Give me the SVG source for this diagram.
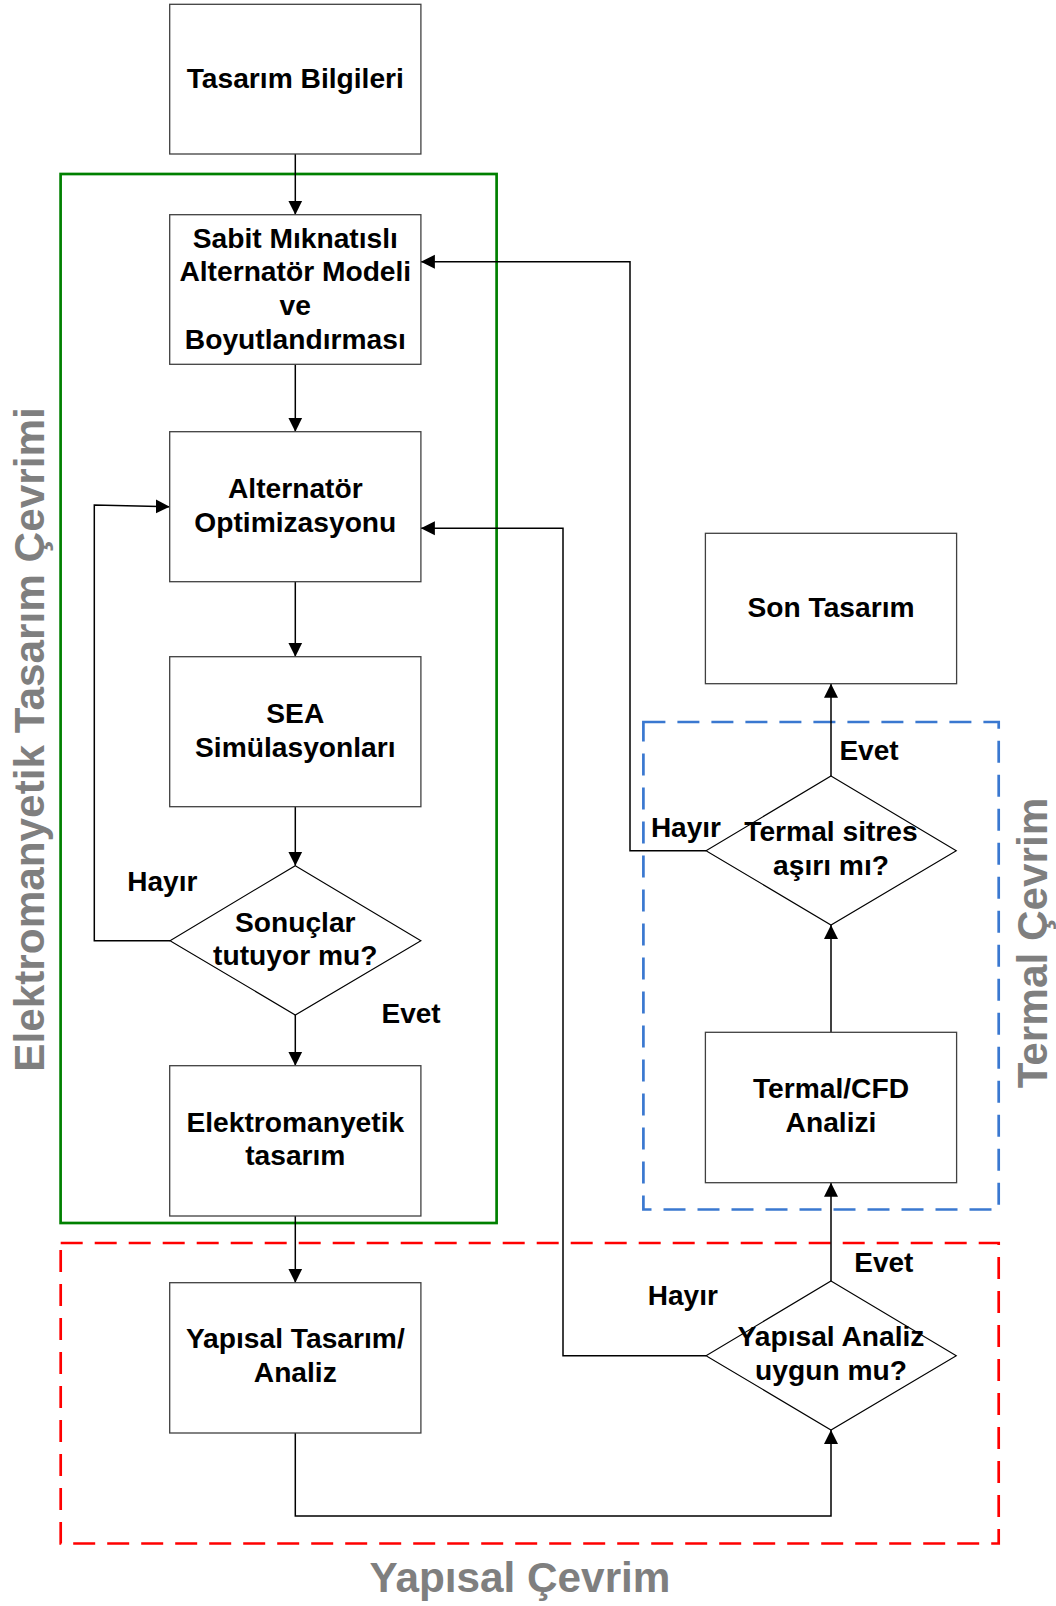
<svg xmlns="http://www.w3.org/2000/svg" width="1056" height="1606" viewBox="0 0 1056 1606">
<defs>
<marker id="arr" markerUnits="userSpaceOnUse" markerWidth="15" markerHeight="15" viewBox="0 -7.5 15 15" refX="14" refY="0" orient="auto">
<path d="M0,-7 L14,0 L0,7 Z" fill="#000"/>
</marker>
</defs>
<style>
.box{fill:#fff;stroke:#404040;stroke-width:1.3}
.dia{fill:#fff;stroke:#000;stroke-width:1.1}
.t{font-family:"Liberation Sans",Arial,sans-serif;font-weight:bold;font-size:28.2px;fill:#000;text-anchor:middle}
.lbl{font-family:"Liberation Sans",Arial,sans-serif;font-weight:bold;font-size:28px;fill:#000}
.big{font-family:"Liberation Sans",Arial,sans-serif;font-weight:bold;font-size:42.3px;fill:#7f7f7f;text-anchor:middle}
.c{fill:none;stroke:#000;stroke-width:1.5}
.grp{fill:none;stroke-width:2.7}
</style>
<rect width="1056" height="1606" fill="#fff"/>

<g id="groups">
<rect id="em-cycle" class="grp" x="60.6" y="174" width="436" height="1049" stroke="#008000"/>
<rect id="thermal-cycle" class="grp" x="643.4" y="722" width="355.3" height="487.5" stroke="#3a78d0" stroke-dasharray="22 12"/>
<rect id="structural-cycle" class="grp" x="60.7" y="1243" width="938" height="300.5" stroke="#ff0000" stroke-dasharray="22 12"/>
</g>

<g id="connectors">
<line class="c" x1="295.3" y1="154" x2="295.3" y2="214.7" marker-end="url(#arr)"/>
<line class="c" x1="295.3" y1="364.3" x2="295.3" y2="431.7" marker-end="url(#arr)"/>
<line class="c" x1="295.3" y1="581.7" x2="295.3" y2="656.7" marker-end="url(#arr)"/>
<line class="c" x1="295.3" y1="806.7" x2="295.3" y2="865.7" marker-end="url(#arr)"/>
<line class="c" x1="295.3" y1="1015" x2="295.3" y2="1065.7" marker-end="url(#arr)"/>
<line class="c" x1="295.3" y1="1216" x2="295.3" y2="1282.7" marker-end="url(#arr)"/>
<polyline class="c" points="170,940.7 94.3,940.7 94.3,505 169.7,506.7" marker-end="url(#arr)"/>
<polyline class="c" points="295.3,1433 295.3,1516 831,1516 831,1430" marker-end="url(#arr)"/>
<line class="c" x1="831" y1="1281" x2="831" y2="1182.7" marker-end="url(#arr)"/>
<line class="c" x1="831" y1="1032.3" x2="831" y2="925" marker-end="url(#arr)"/>
<line class="c" x1="831" y1="776" x2="831" y2="683.7" marker-end="url(#arr)"/>
<polyline class="c" points="706,850.7 630,850.7 630,261.7 420.9,261.7" marker-end="url(#arr)"/>
<polyline class="c" points="706,1355.7 563,1355.7 563,528.3 420.9,528.3" marker-end="url(#arr)"/>
</g>

<g id="n-tasarim-bilgileri">
<rect class="box" x="169.7" y="4.3" width="251.2" height="149.7"/>
<text class="t" x="295.3" y="88.3">Tasarım Bilgileri</text>
</g>
<g id="n-sabit">
<rect class="box" x="169.7" y="214.7" width="251.2" height="149.6"/>
<text class="t" x="295.3" y="247.5">Sabit Mıknatıslı</text>
<text class="t" x="295.3" y="281.2">Alternatör Modeli</text>
<text class="t" x="295.3" y="314.8">ve</text>
<text class="t" x="295.3" y="348.5">Boyutlandırması</text>
</g>
<g id="n-optimizasyon">
<rect class="box" x="169.7" y="431.7" width="251.2" height="150"/>
<text class="t" x="295.3" y="497.7">Alternatör</text>
<text class="t" x="295.3" y="531.7">Optimizasyonu</text>
</g>
<g id="n-sea">
<rect class="box" x="169.7" y="656.7" width="251.2" height="150"/>
<text class="t" x="295.3" y="722.7">SEA</text>
<text class="t" x="295.3" y="756.7">Simülasyonları</text>
</g>
<g id="n-sonuclar">
<polygon class="dia" points="295.3,865.7 420.9,940.7 295.3,1015 170,940.7"/>
<text class="t" x="295.3" y="931.7">Sonuçlar</text>
<text class="t" x="295.3" y="965">tutuyor mu?</text>
</g>
<g id="n-elektromanyetik">
<rect class="box" x="169.7" y="1065.7" width="251.2" height="150.3"/>
<text class="t" x="295.3" y="1132.3">Elektromanyetik</text>
<text class="t" x="295.3" y="1165">tasarım</text>
</g>
<g id="n-yapisal-tasarim">
<rect class="box" x="169.7" y="1282.7" width="251.2" height="150.3"/>
<text class="t" x="295.3" y="1348.3">Yapısal Tasarım/</text>
<text class="t" x="295.3" y="1381.7">Analiz</text>
</g>
<g id="n-yapisal-analiz">
<polygon class="dia" points="831,1281 956.3,1355.7 831,1430 706,1355.7"/>
<text class="t" x="831" y="1345.7">Yapısal Analiz</text>
<text class="t" x="831" y="1380">uygun mu?</text>
</g>
<g id="n-termal-cfd">
<rect class="box" x="705.4" y="1032.3" width="251.2" height="150.4"/>
<text class="t" x="831" y="1098.3">Termal/CFD</text>
<text class="t" x="831" y="1132.3">Analizi</text>
</g>
<g id="n-termal-sitres">
<polygon class="dia" points="831,776 956.3,850.7 831,925 706,850.7"/>
<text class="t" x="831" y="840.7">Termal sitres</text>
<text class="t" x="831" y="875">aşırı mı?</text>
</g>
<g id="n-son-tasarim">
<rect class="box" x="705.4" y="533.3" width="251.2" height="150.4"/>
<text class="t" x="831" y="616.7">Son Tasarım</text>
</g>

<g id="labels">
<text class="lbl" x="127.3" y="890.7">Hayır</text>
<text class="lbl" x="381.5" y="1022.7">Evet</text>
<text class="lbl" x="839.4" y="760">Evet</text>
<text class="lbl" x="650.9" y="837.3">Hayır</text>
<text class="lbl" x="854.3" y="1271.7">Evet</text>
<text class="lbl" x="647.8" y="1305">Hayır</text>
<text class="big" transform="translate(43.8,739.5) rotate(-90)">Elektromanyetik Tasarım Çevrimi</text>
<text class="big" transform="translate(1047,943) rotate(-90)">Termal Çevrim</text>
<text class="big" x="520" y="1591.7">Yapısal Çevrim</text>
</g>
</svg>
